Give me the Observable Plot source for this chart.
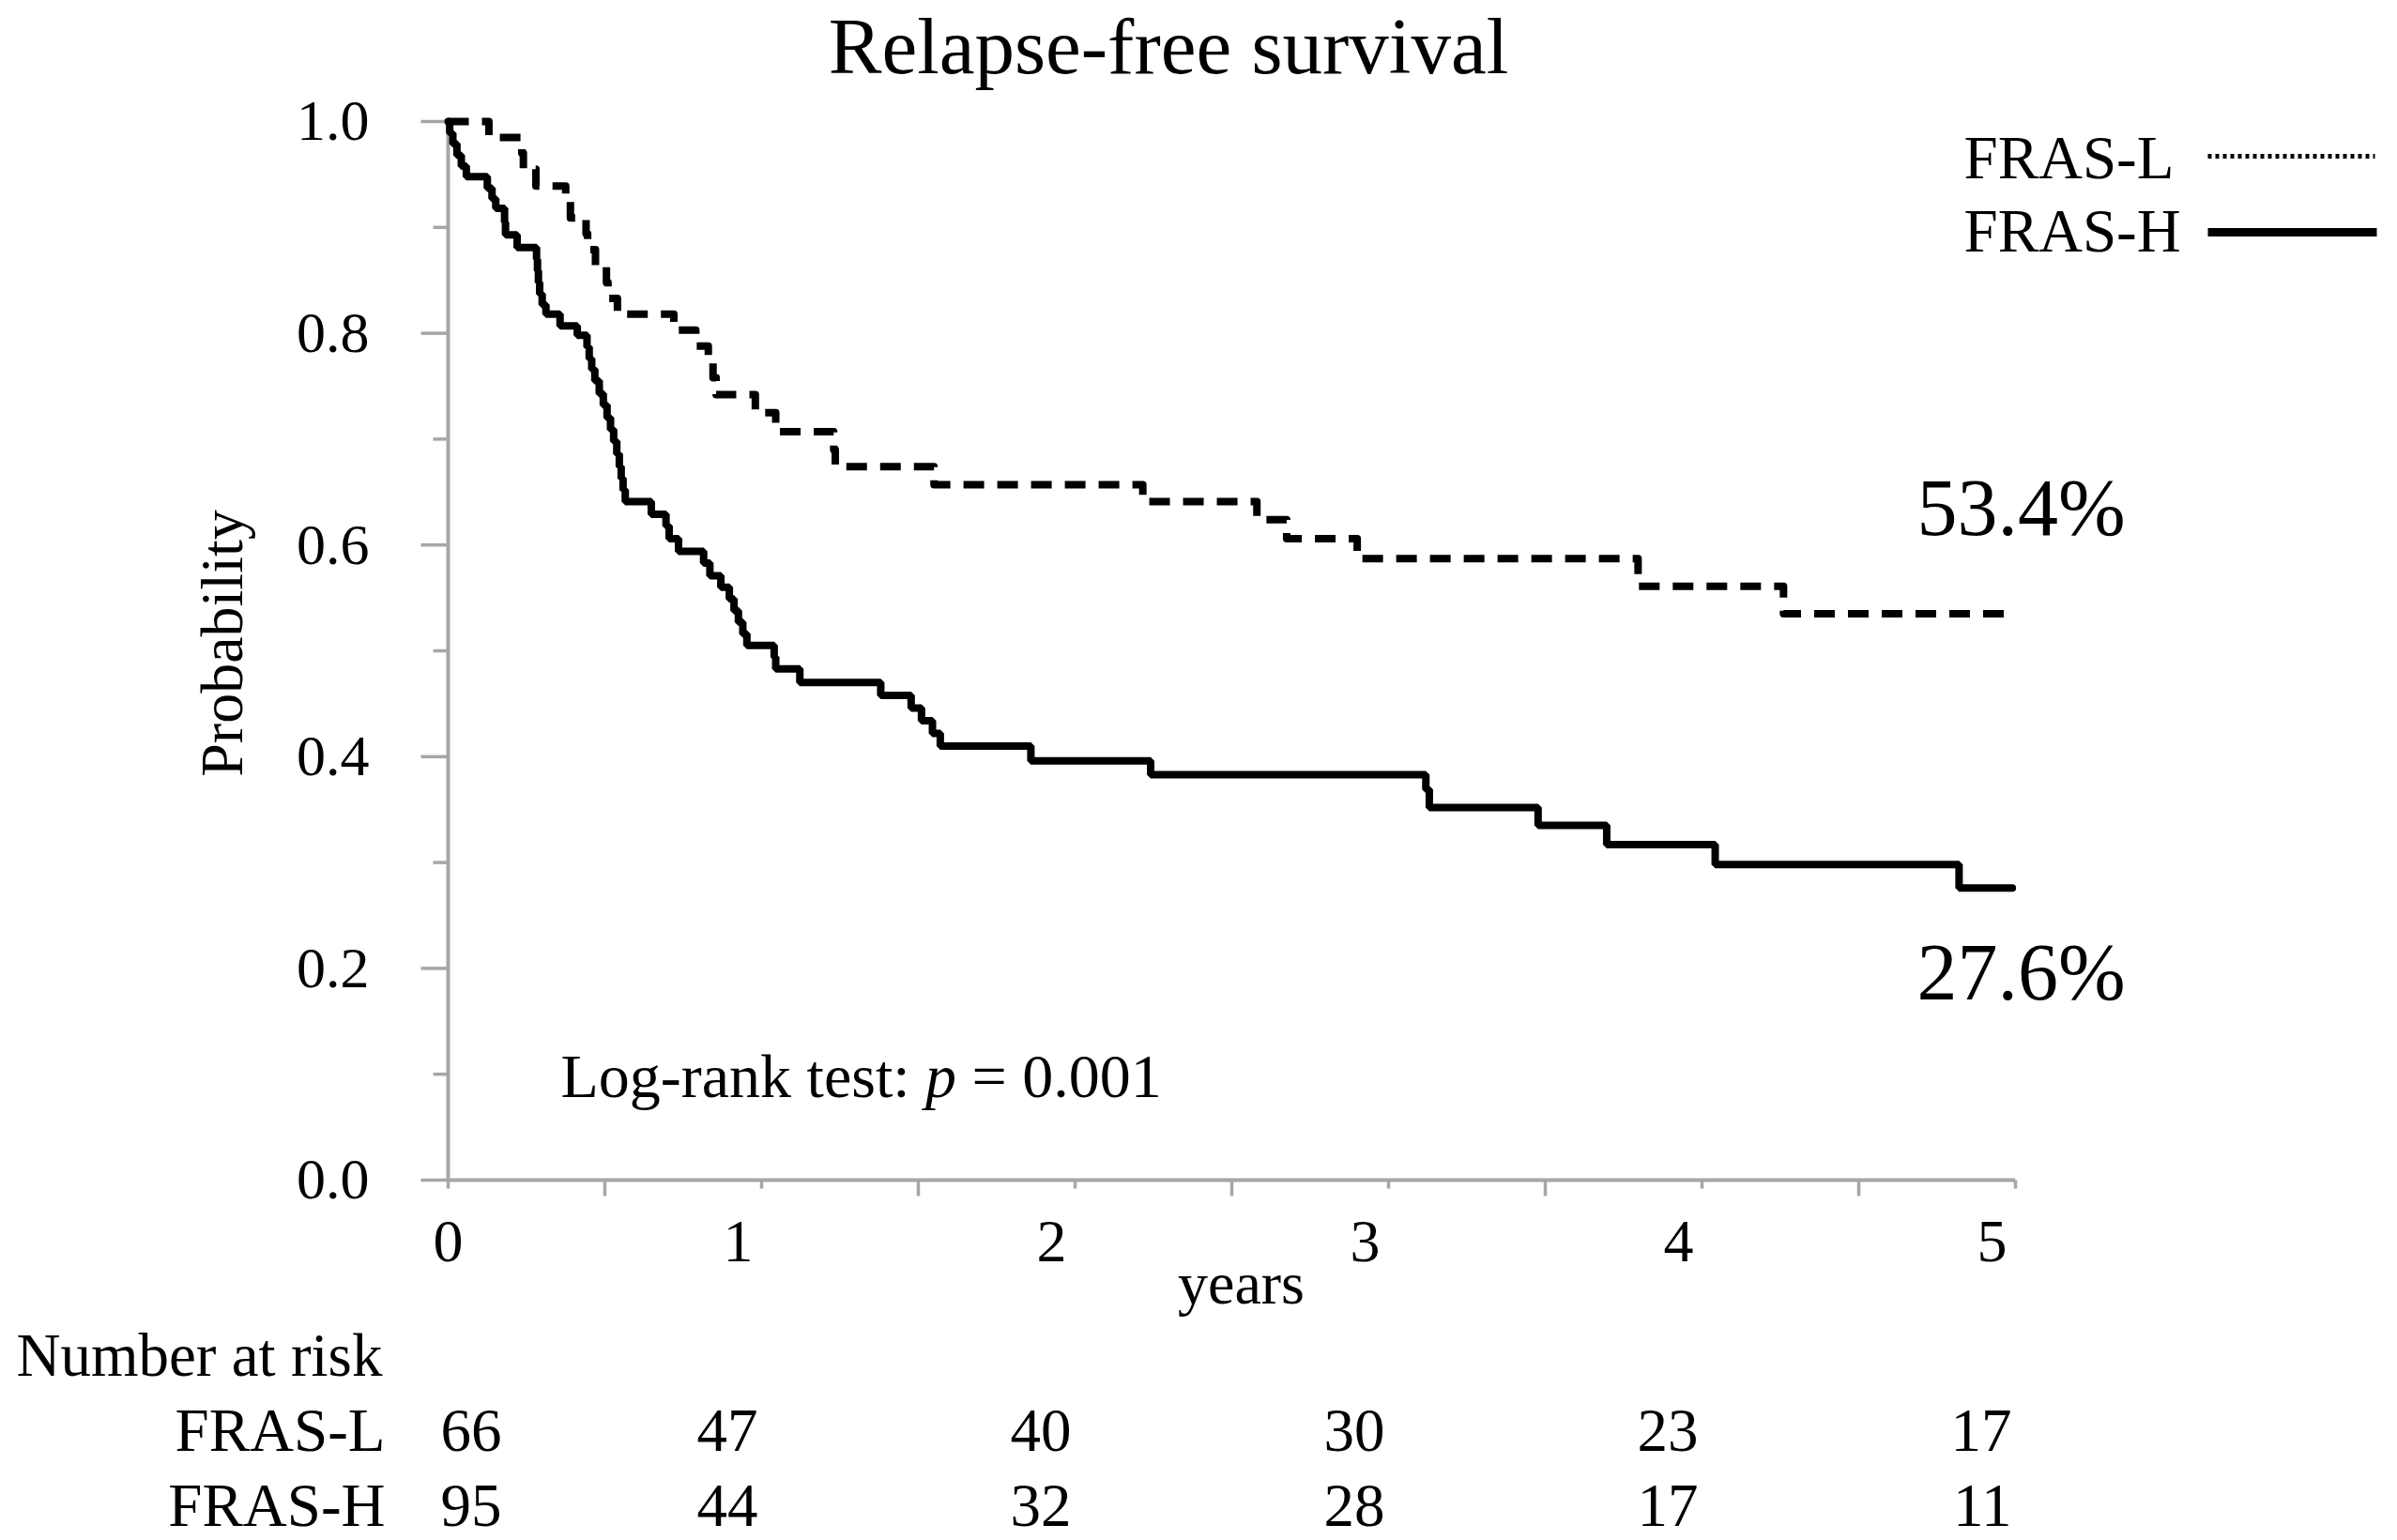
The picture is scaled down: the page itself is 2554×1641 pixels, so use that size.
<!DOCTYPE html>
<html><head><meta charset="utf-8">
<script src="https://cdn.jsdelivr.net/npm/d3@7"></script>
<script src="https://cdn.jsdelivr.net/npm/@observablehq/plot@0.6"></script>
<style>
html,body{margin:0;padding:0;background:#fff;}
#title{position:relative;height:98px;width:2554px;}
#title span{position:absolute;left:1245px;top:0;transform:translateX(-50%);font-family:"Liberation Serif",serif;font-size:85px;line-height:98px;white-space:nowrap;color:#000;}
#chart svg{display:block;}
</style></head><body>
<div id="title"><span id="titleText"></span></div>
<div id="chart"></div>
<script>
// ---- data ----
const chartTitle = "Relapse-free survival";
const seriesNames = ["FRAS-L", "FRAS-H"];

const lowTimes = [0, 0.13, 0.235, 0.24, 0.28, 0.375, 0.39, 0.44, 0.445, 0.47, 0.505, 0.51, 0.54, 0.72, 0.79, 0.83, 0.845, 0.855, 0.98, 1.045, 1.23, 1.235, 1.55, 2.216, 2.58, 2.675, 2.9, 3.796, 4.26, 4.99];
const lowSurv  = [1.0, 0.985, 0.970, 0.955, 0.939, 0.924, 0.909, 0.894, 0.879, 0.864, 0.848, 0.833, 0.818, 0.803, 0.788, 0.773, 0.758, 0.742, 0.725, 0.707, 0.690, 0.674, 0.657, 0.641, 0.624, 0.606, 0.587, 0.561, 0.535, 0.535];

const highTimes = [0, 0.005, 0.015, 0.028, 0.042, 0.058, 0.125, 0.14, 0.152, 0.18, 0.183, 0.22, 0.282, 0.285, 0.288, 0.292, 0.30, 0.312, 0.357, 0.412, 0.443, 0.45, 0.458, 0.468, 0.482, 0.495, 0.507, 0.518, 0.528, 0.538, 0.546, 0.552, 0.558, 0.565, 0.648, 0.695, 0.705, 0.735, 0.815, 0.835, 0.87, 0.897, 0.912, 0.926, 0.94, 0.953, 1.04, 1.045, 1.122, 1.38, 1.477, 1.51, 1.545, 1.57, 1.859, 2.241, 3.119, 3.13, 3.477, 3.696, 4.042, 4.82, 4.99];
const highSurv  = [1.0, 0.989, 0.979, 0.968, 0.958, 0.948, 0.937, 0.927, 0.918, 0.905, 0.893, 0.881, 0.870, 0.859, 0.848, 0.837, 0.827, 0.818, 0.807, 0.798, 0.787, 0.776, 0.766, 0.755, 0.743, 0.732, 0.720, 0.709, 0.698, 0.686, 0.674, 0.663, 0.652, 0.641, 0.629, 0.618, 0.606, 0.594, 0.583, 0.571, 0.560, 0.549, 0.538, 0.527, 0.516, 0.505, 0.494, 0.483, 0.470, 0.458, 0.446, 0.434, 0.422, 0.410, 0.396, 0.383, 0.369, 0.352, 0.335, 0.317, 0.298, 0.276, 0.276];

const xTicks = [0, 1, 2, 3, 4, 5];
const xHalfTicks = [0.5, 1.5, 2.5, 3.5, 4.5];
const yMajor = [0, 0.2, 0.4, 0.6, 0.8, 1.0];
const yMinor = [0.1, 0.3, 0.5, 0.7, 0.9];
const xLabel = "years";
const yLabel = "Probability";

const riskTitle = "Number at risk";
const riskYears = [0, 1, 2, 3, 4, 5];
const riskLow  = [66, 47, 40, 30, 23, 17];
const riskHigh = [95, 44, 32, 28, 17, 11];

const endLabels = ["53.4%", "27.6%"];
const endValues = [0.534, 0.276];
const endYear = 5;

const pLabel = "Log-rank test: ";
const pSymbol = "p";
const pValue = " = 0.001";

// ---- build ----
document.getElementById("titleText").textContent = chartTitle;

const lowData = lowTimes.map((t, i) => ({t, s: lowSurv[i]}));
const highData = highTimes.map((t, i) => ({t, s: highSurv[i]}));
const riskL = riskYears.map((x, i) => ({x, n: riskLow[i]}));
const riskH = riskYears.map((x, i) => ({x, n: riskHigh[i]}));

const gray = "#a6a6a6";
const ink = "#000";
const FONT = "Liberation Serif";

const hTick = len => ({draw(ctx) { ctx.moveTo(-len, 0); ctx.lineTo(0, 0); }});
const vTick = len => ({draw(ctx) { ctx.moveTo(0, 0); ctx.lineTo(0, len); }});
const hSeg = len => ({draw(ctx) { ctx.moveTo(0, 0); ctx.lineTo(len, 0); }});

const T = (opts) => Object.assign({fill: ink, fontFamily: FONT, lineAnchor: "bottom"}, opts);

const plot = Plot.plot({
  width: 2554,
  height: 1543,
  marginLeft: 477,
  marginRight: 407,
  marginTop: 31,
  marginBottom: 384,
  x: {domain: [0, 5], axis: null},
  y: {domain: [0, 1], axis: null},
  style: {background: "#fff", fontFamily: FONT, fontSize: "64px", color: ink, overflow: "visible"},
  marks: [
    // axis lines
    Plot.ruleX([0], {stroke: gray, strokeWidth: 4}),
    Plot.ruleY([0], {stroke: gray, strokeWidth: 4}),
    // y ticks
    Plot.dot(yMajor, {y: d => d, frameAnchor: "left", symbol: hTick(29), stroke: gray, strokeWidth: 3.5, fill: "none"}),
    Plot.dot(yMinor, {y: d => d, frameAnchor: "left", symbol: hTick(16), stroke: gray, strokeWidth: 3.5, fill: "none"}),
    // x ticks
    Plot.dot(xTicks, {x: d => d, frameAnchor: "bottom", symbol: vTick(9), stroke: gray, strokeWidth: 3.5, fill: "none"}),
    Plot.dot(xHalfTicks, {x: d => d, frameAnchor: "bottom", symbol: vTick(17), stroke: gray, strokeWidth: 3.5, fill: "none"}),
    // y tick labels
    Plot.text(yMajor, T({y: d => d, text: d => d3.format(".1f")(d), frameAnchor: "left", textAnchor: "end", dx: -84, lineAnchor: "middle", fontSize: 62})),
    // x tick labels
    Plot.text(xTicks.filter(d => d === 0), T({x: d => d, text: d => String(d), frameAnchor: "bottom", dy: 86, textAnchor: "middle", fontSize: 64})),
    Plot.text(xTicks.filter(d => d !== 0), T({x: d => d, text: d => String(d), frameAnchor: "bottom", dy: 86, dx: -9, textAnchor: "end", fontSize: 64})),
    // axis titles
    Plot.text([xLabel], T({text: d => d, frameAnchor: "bottom", dy: 131, dx: 10, textAnchor: "middle", fontSize: 64})),
    Plot.text([yLabel], T({text: d => d, frameAnchor: "left", dx: -240, dy: -8, rotate: -90, textAnchor: "middle", lineAnchor: "middle", fontSize: 64})),
    // curves
    Plot.line(lowData, {x: "t", y: "s", curve: "step-after", stroke: ink, strokeWidth: 8, strokeDasharray: "22,14", strokeLinecap: "butt"}),
    Plot.line(highData, {x: "t", y: "s", curve: "step-after", stroke: ink, strokeWidth: 8, strokeLinejoin: "miter"}),
    // end annotations
    Plot.text([0], T({x: () => endYear, y: () => endValues[0], text: () => endLabels[0], textAnchor: "start", dx: -105, dy: -85, fontSize: 86})),
    Plot.text([1], T({x: () => endYear, y: () => endValues[1], text: () => endLabels[1], textAnchor: "start", dx: -105, dy: 119, fontSize: 86})),
    // log-rank
    Plot.text([pLabel + pSymbol + pValue], T({text: d => d, frameAnchor: "bottom-left", dx: 120, dy: -89, textAnchor: "start", fontSize: 66})),
    // legend
    Plot.text([seriesNames[0]], T({text: d => d, frameAnchor: "top-right", dx: -55, dy: 60, textAnchor: "start", fontSize: 65})),
    Plot.text([seriesNames[1]], T({text: d => d, frameAnchor: "top-right", dx: -55, dy: 138, textAnchor: "start", fontSize: 65})),
    Plot.dot([seriesNames[0]], {frameAnchor: "top-right", dx: 205, dy: 37, symbol: hSeg(178), stroke: ink, strokeWidth: 5, strokeDasharray: "4,4", fill: "none"}),
    Plot.dot([seriesNames[1]], {frameAnchor: "top-right", dx: 205, dy: 118, symbol: hSeg(180), stroke: ink, strokeWidth: 9, fill: "none"}),
    // number at risk table
    Plot.text([riskTitle], T({text: d => d, frameAnchor: "bottom-left", dx: -460, dy: 208, textAnchor: "start", fontSize: 65})),
    Plot.text([seriesNames[0]], T({text: d => d, frameAnchor: "bottom-left", dx: -67, dy: 288, textAnchor: "end", fontSize: 65})),
    Plot.text([seriesNames[1]], T({text: d => d, frameAnchor: "bottom-left", dx: -67, dy: 368, textAnchor: "end", fontSize: 65})),
    Plot.text(riskL.filter(d => d.x === 0), T({x: "x", text: d => String(d.n), frameAnchor: "bottom", dy: 288, dx: -8, textAnchor: "start", fontSize: 65})),
    Plot.text(riskL.filter(d => d.x !== 0), T({x: "x", text: d => String(d.n), frameAnchor: "bottom", dy: 288, dx: -4, textAnchor: "end", fontSize: 65})),
    Plot.text(riskH.filter(d => d.x === 0), T({x: "x", text: d => String(d.n), frameAnchor: "bottom", dy: 368, dx: -8, textAnchor: "start", fontSize: 65})),
    Plot.text(riskH.filter(d => d.x !== 0), T({x: "x", text: d => String(d.n), frameAnchor: "bottom", dy: 368, dx: -4, textAnchor: "end", fontSize: 65}))
  ]
});

document.getElementById("chart").appendChild(plot);

// italic p in the log-rank annotation
plot.querySelectorAll("text").forEach(el => {
  if (el.textContent === pLabel + pSymbol + pValue) {
    const ns = "http://www.w3.org/2000/svg";
    el.textContent = "";
    const a = document.createElementNS(ns, "tspan"); a.textContent = pLabel;
    const b = document.createElementNS(ns, "tspan"); b.textContent = pSymbol; b.setAttribute("font-style", "italic");
    const c = document.createElementNS(ns, "tspan"); c.textContent = pValue;
    el.append(a, b, c);
    el.setAttribute("xml:space", "preserve");
    el.style.whiteSpace = "pre";
  }
});
</script>
</body></html>
